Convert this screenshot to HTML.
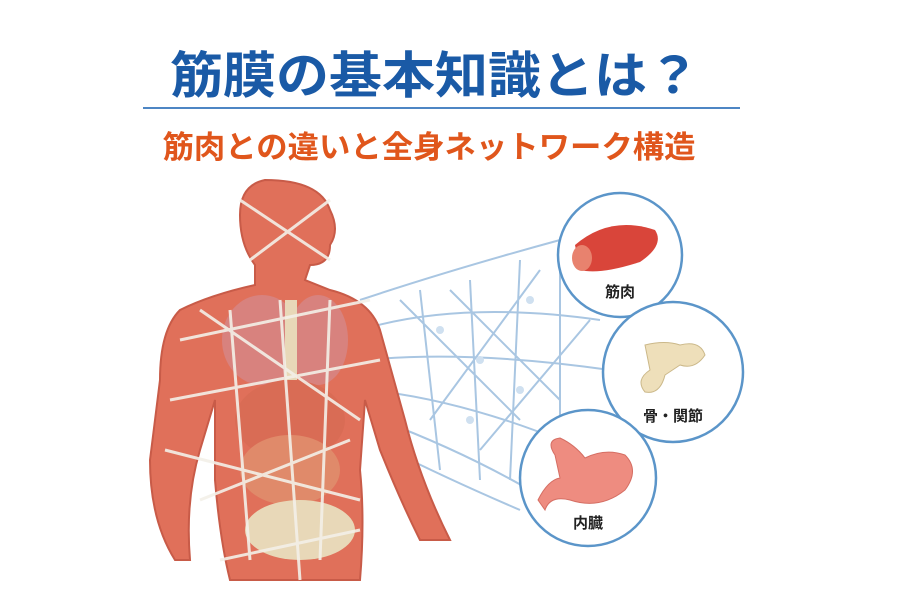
<!DOCTYPE html>
<html><head><meta charset="utf-8"><style>
html,body{margin:0;padding:0;background:#fff;width:900px;height:600px;overflow:hidden}
svg{display:block}
text{font-family:"Liberation Sans","Noto Sans CJK JP",sans-serif;font-weight:bold}
</style></head><body>
<svg width="900" height="600" viewBox="0 0 900 600">
<text x="435" y="93" text-anchor="middle" font-size="50" fill="#1a5aa6" textLength="530" lengthAdjust="spacingAndGlyphs">筋膜の基本知識とは？</text>
<rect x="143" y="107" width="597" height="2" fill="#4d86c4"/>
<text x="429" y="158" text-anchor="middle" font-size="31" fill="#e0561c" textLength="533" lengthAdjust="spacingAndGlyphs">筋肉との違いと全身ネットワーク構造</text>
<!-- network -->
<g stroke="#a9c6e2" stroke-width="2" fill="none">
<path d="M360 300 Q450 270 560 240 M360 330 Q460 300 600 320 M365 360 Q470 350 610 370 M370 390 Q460 400 560 440 M380 420 Q460 450 530 490 M390 450 Q450 480 520 510"/>
<path d="M420 290 L440 470 M470 280 L480 480 M520 260 L510 480 M560 250 L560 440 M400 300 L520 420 M450 290 L560 400 M430 420 L540 270 M480 450 L590 320"/>
</g>
<g fill="#cfe0f0"><circle cx="440" cy="330" r="4"/><circle cx="480" cy="360" r="4"/><circle cx="520" cy="390" r="4"/><circle cx="470" cy="420" r="4"/><circle cx="530" cy="300" r="4"/></g>
<!-- body -->
<g>
<path d="M265 180 Q240 185 240 215 Q240 245 255 265 L255 285 Q210 295 180 310 Q160 330 160 380 L150 460 Q150 520 175 560 L190 560 Q185 500 200 450 L215 400 L215 480 Q220 540 230 580 L360 580 Q365 520 360 470 L365 400 L380 450 Q400 500 420 540 L450 540 Q420 480 405 420 L380 330 Q370 300 330 290 L305 280 L310 265 Q330 265 330 245 Q340 230 330 210 Q320 180 265 180Z" fill="#e0705a" stroke="#c85b48" stroke-width="2"/>
<ellipse cx="262" cy="340" rx="40" ry="45" fill="#d8827e"/>
<ellipse cx="318" cy="340" rx="30" ry="45" fill="#d8827e"/>
<rect x="285" y="300" width="12" height="80" fill="#e8d8b8"/>
<ellipse cx="290" cy="420" rx="55" ry="40" fill="#d96c55"/>
<ellipse cx="290" cy="470" rx="50" ry="35" fill="#e08a6a"/>
<ellipse cx="300" cy="530" rx="55" ry="30" fill="#e8d8b8"/>
<g stroke="#f3efe8" stroke-width="3" fill="none" opacity="0.9">
<path d="M240 200 L330 260 M250 260 L330 200 M200 310 L360 420 M180 340 L370 300 M170 400 L380 360 M165 450 L360 500 M200 500 L350 440 M220 560 L360 530 M230 310 L250 560 M330 300 L320 560 M280 300 L300 580"/>
</g>
</g>
<!-- circles -->
<g fill="#fff" stroke="#5b95c9" stroke-width="2.5">
<circle cx="620" cy="255" r="62"/>
<circle cx="673" cy="372" r="70"/>
<circle cx="588" cy="478" r="68"/>
</g>
<path d="M575 245 Q610 215 655 230 Q665 245 640 262 Q600 275 580 270 Z" fill="#d9453a"/>
<ellipse cx="582" cy="258" rx="10" ry="13" fill="#e8826e"/>
<path d="M645 345 Q665 340 680 345 Q700 340 705 355 Q695 370 680 365 L665 375 Q660 395 645 392 Q635 380 650 370 Z" fill="#eedfba" stroke="#cbb889"/>
<path d="M555 455 Q545 440 560 438 Q575 445 585 458 Q605 448 625 455 Q640 470 625 490 Q600 510 570 500 Q550 495 545 510 L538 500 Q548 480 560 478 Z" fill="#ee8c80" stroke="#d56e63"/>
<g font-size="15" fill="#222" text-anchor="middle">
<text x="620" y="297">筋肉</text>
<text x="673" y="421">骨・関節</text>
<text x="588" y="528">内臓</text>
</g>
</svg>
</body></html>
